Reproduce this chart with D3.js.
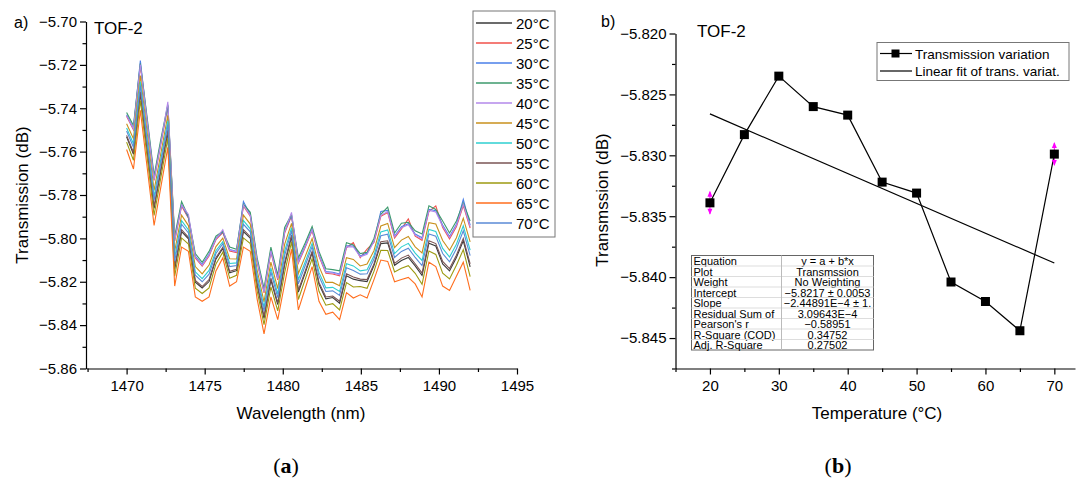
<!DOCTYPE html>
<html lang="en">
<head>
<meta charset="UTF-8">
<title>TOF-2 transmission vs wavelength and temperature</title>
<script src="https://d3js.org/d3.v7.min.js"></script>
<style>
    body { margin: 0; background: #fff; }
    svg text { font-family: "Liberation Sans", Arial, sans-serif; fill: #000; }
    .axis path, .axis line { stroke: #000; stroke-width: 1.2px; }
    .axis text { font-size: 15px; font-family: "Liberation Sans", Arial, sans-serif; fill: #000; }
    .axis-title { font-size: 17px; }
    .panel-tag { font-size: 16px; }
    .plot-title { font-size: 17px; }
    .legend-text { font-size: 15px; }
    .legend2-text { font-size: 13.5px; }
    .table-text { font-size: 11px; }
    .caption { font-family: "Liberation Serif", "DejaVu Serif", serif; font-size: 22px; }
</style>
</head>
<body>
<script>
// ---------- panel (a) data ----------
var wavelengths = [1470.00, 1470.44, 1470.88, 1471.32, 1471.76, 1472.20, 1472.64, 1473.08, 1473.52, 1473.96,
    1474.40, 1474.84, 1475.28, 1475.72, 1476.16, 1476.60, 1477.04, 1477.48, 1477.92, 1478.36,
    1478.80, 1479.24, 1479.68, 1480.12, 1480.56, 1481.00, 1481.44, 1481.88, 1482.32, 1482.76,
    1483.20, 1483.64, 1484.08, 1484.52, 1484.96, 1485.40, 1485.84, 1486.28, 1486.72, 1487.16,
    1487.60, 1488.04, 1488.48, 1488.92, 1489.36, 1489.80, 1490.24, 1490.68, 1491.12, 1491.56, 1492.00];

var tempLabels = ["20°C", "25°C", "30°C", "35°C", "40°C", "45°C", "50°C", "55°C", "60°C", "65°C", "70°C"];
var tempColors = ["#3a3a3a", "#f0504a", "#4a7fe8", "#3c9a6c", "#b388ea", "#c8901c", "#2ecfd0", "#7a5454", "#9c9a10", "#ff6e1e", "#5a8ad6"];

var t20 = [-5.7532, -5.7612, -5.7332, -5.7597, -5.7862, -5.7685, -5.7509, -5.8142, -5.7969, -5.8002, -5.8202, -5.8229, -5.8199, -5.8096, -5.8046, -5.8159, -5.8149, -5.7969, -5.7999, -5.8215, -5.8369, -5.8192, -5.8305, -5.8122, -5.7992, -5.8248, -5.8159, -5.8067, -5.8212, -5.8279, -5.8273, -5.8299, -5.8172, -5.8188, -5.8195, -5.8199, -5.8125, -5.8024, -5.8021, -5.8124, -5.8102, -5.8088, -5.8127, -5.8171, -5.8022, -5.8035, -5.8118, -5.8150, -5.8088, -5.8011, -5.8131];
var t25 = [-5.7437, -5.7500, -5.7203, -5.7468, -5.7733, -5.7562, -5.7391, -5.8013, -5.7851, -5.7907, -5.8090, -5.8128, -5.8081, -5.8006, -5.7973, -5.8058, -5.8065, -5.7851, -5.7898, -5.8109, -5.8251, -5.8063, -5.8191, -5.7976, -5.7897, -5.8114, -5.8041, -5.7964, -5.8083, -5.8161, -5.8164, -5.8173, -5.8043, -5.8020, -5.8089, -5.8050, -5.8019, -5.7898, -5.7881, -5.7998, -5.7956, -5.7910, -5.7990, -5.8009, -5.7876, -5.7850, -5.7950, -5.8002, -5.7946, -5.7849, -5.7952];
var t30 = [-5.7430, -5.7492, -5.7180, -5.7459, -5.7724, -5.7553, -5.7387, -5.8004, -5.7843, -5.7904, -5.8082, -5.8121, -5.8073, -5.8000, -5.7970, -5.8051, -5.8059, -5.7830, -5.7891, -5.8101, -5.8243, -5.8054, -5.8182, -5.7966, -5.7894, -5.8104, -5.8033, -5.7956, -5.8074, -5.8153, -5.8156, -5.8164, -5.8034, -5.8035, -5.8081, -5.8068, -5.8011, -5.7876, -5.7871, -5.7989, -5.7946, -5.7932, -5.7980, -5.7997, -5.7866, -5.7872, -5.7938, -5.7991, -5.7935, -5.7820, -5.7939];
var t35 = [-5.7420, -5.7480, -5.7194, -5.7445, -5.7710, -5.7540, -5.7383, -5.7990, -5.7830, -5.7900, -5.8070, -5.8110, -5.8060, -5.7990, -5.7968, -5.8040, -5.8050, -5.7843, -5.7880, -5.8090, -5.8230, -5.8040, -5.8170, -5.7950, -5.7890, -5.8090, -5.8020, -5.7945, -5.8060, -5.8140, -5.8144, -5.8150, -5.8020, -5.8030, -5.8070, -5.8064, -5.8000, -5.7889, -5.7856, -5.7975, -5.7930, -5.7926, -5.7965, -5.7980, -5.7850, -5.7867, -5.7920, -5.7975, -5.7920, -5.7837, -5.7920];
var t40 = [-5.7434, -5.7496, -5.7198, -5.7463, -5.7728, -5.7558, -5.7370, -5.8008, -5.7847, -5.7890, -5.8086, -5.8124, -5.8077, -5.8003, -5.7960, -5.8054, -5.8062, -5.7847, -5.7894, -5.8105, -5.8247, -5.8058, -5.8186, -5.7971, -5.7880, -5.8109, -5.8037, -5.7960, -5.8078, -5.8157, -5.8160, -5.8168, -5.8038, -5.8040, -5.8085, -5.8073, -5.8015, -5.7894, -5.7876, -5.7993, -5.7951, -5.7937, -5.7985, -5.8003, -5.7871, -5.7878, -5.7944, -5.7996, -5.7940, -5.7843, -5.7946];
var t45 = [-5.7471, -5.7540, -5.7249, -5.7514, -5.7779, -5.7606, -5.7433, -5.8059, -5.7893, -5.7941, -5.8130, -5.8164, -5.8123, -5.8038, -5.7999, -5.8094, -5.8095, -5.7893, -5.7934, -5.8147, -5.8293, -5.8109, -5.8232, -5.8028, -5.7931, -5.8162, -5.8083, -5.8001, -5.8129, -5.8203, -5.8203, -5.8218, -5.8089, -5.8097, -5.8127, -5.8118, -5.8057, -5.7943, -5.7931, -5.8043, -5.8008, -5.7991, -5.8039, -5.8067, -5.7928, -5.7934, -5.8010, -5.8055, -5.7997, -5.7907, -5.8016];
var t50 = [-5.7491, -5.7564, -5.7277, -5.7542, -5.7807, -5.7632, -5.7458, -5.8087, -5.7918, -5.7961, -5.8154, -5.8186, -5.8148, -5.8057, -5.8015, -5.8116, -5.8113, -5.7918, -5.7956, -5.8170, -5.8318, -5.8137, -5.8256, -5.8059, -5.7951, -5.8191, -5.8108, -5.8023, -5.8157, -5.8228, -5.8226, -5.8245, -5.8117, -5.8127, -5.8150, -5.8145, -5.8080, -5.7970, -5.7961, -5.8070, -5.8039, -5.8023, -5.8068, -5.8102, -5.7959, -5.7968, -5.8046, -5.8086, -5.8027, -5.7942, -5.8054];
var t55 = [-5.7525, -5.7604, -5.7323, -5.7588, -5.7853, -5.7676, -5.7500, -5.8133, -5.7960, -5.7995, -5.8194, -5.8222, -5.8190, -5.8089, -5.8041, -5.8152, -5.8143, -5.7960, -5.7992, -5.8208, -5.8360, -5.8183, -5.8297, -5.8111, -5.7985, -5.8239, -5.8150, -5.8060, -5.8203, -5.8270, -5.8266, -5.8290, -5.8163, -5.8178, -5.8188, -5.8190, -5.8118, -5.8015, -5.8011, -5.8115, -5.8091, -5.8077, -5.8117, -5.8160, -5.8011, -5.8024, -5.8106, -5.8139, -5.8078, -5.8000, -5.8118];
var t60 = [-5.7556, -5.7640, -5.7364, -5.7629, -5.7894, -5.7716, -5.7538, -5.8174, -5.7998, -5.8026, -5.8230, -5.8254, -5.8228, -5.8118, -5.8064, -5.8184, -5.8170, -5.7998, -5.8024, -5.8242, -5.8398, -5.8224, -5.8334, -5.8158, -5.8016, -5.8282, -5.8188, -5.8093, -5.8244, -5.8308, -5.8301, -5.8330, -5.8204, -5.8224, -5.8222, -5.8230, -5.8152, -5.8055, -5.8056, -5.8155, -5.8138, -5.8126, -5.8161, -5.8212, -5.8058, -5.8074, -5.8160, -5.8187, -5.8124, -5.8052, -5.8176];
var t65 = [-5.7590, -5.7680, -5.7410, -5.7675, -5.7940, -5.7760, -5.7580, -5.8220, -5.8040, -5.8060, -5.8270, -5.8290, -5.8270, -5.8150, -5.8090, -5.8220, -5.8200, -5.8040, -5.8060, -5.8280, -5.8440, -5.8270, -5.8375, -5.8210, -5.8050, -5.8330, -5.8230, -5.8130, -5.8290, -5.8350, -5.8340, -5.8375, -5.8250, -5.8275, -5.8260, -5.8275, -5.8190, -5.8100, -5.8106, -5.8200, -5.8190, -5.8180, -5.8210, -5.8270, -5.8110, -5.8130, -5.8220, -5.8240, -5.8175, -5.8110, -5.8240];
var t70 = [-5.7505, -5.7580, -5.7295, -5.7560, -5.7825, -5.7650, -5.7475, -5.8105, -5.7935, -5.7975, -5.8170, -5.8200, -5.8165, -5.8070, -5.8025, -5.8130, -5.8125, -5.7935, -5.7970, -5.8185, -5.8335, -5.8155, -5.8273, -5.8080, -5.7965, -5.8210, -5.8125, -5.8038, -5.8175, -5.8245, -5.8242, -5.8263, -5.8135, -5.8148, -5.8165, -5.8163, -5.8095, -5.7988, -5.7981, -5.8088, -5.8060, -5.8045, -5.8088, -5.8125, -5.7980, -5.7990, -5.8070, -5.8108, -5.8048, -5.7965, -5.8080];
var seriesA = [t20, t25, t30, t35, t40, t45, t50, t55, t60, t65, t70];

var xTicksA = [1470, 1475, 1480, 1485, 1490, 1495];
var xMinorA = [1467.5, 1472.5, 1477.5, 1482.5, 1487.5, 1492.5];
var yTicksA = [-5.86, -5.84, -5.82, -5.80, -5.78, -5.76, -5.74, -5.72, -5.70];
var yMinorA = [-5.85, -5.83, -5.81, -5.79, -5.77, -5.75, -5.73, -5.71];

// ---------- panel (b) data ----------
var temperatures = [20, 25, 30, 35, 40, 45, 50, 55, 60, 65, 70];
var transmission = [-5.8339, -5.8283, -5.8235, -5.8260, -5.8267, -5.8322, -5.8331, -5.8404, -5.8420, -5.8444, -5.8299];
var fitA = -5.8217, fitB = -2.44891e-4;
var xTicksB = [20, 30, 40, 50, 60, 70];
var xMinorB = [15, 25, 35, 45, 55, 65];
var yTicksB = [-5.845, -5.840, -5.835, -5.830, -5.825, -5.820];
var yMinorB = [-5.8475, -5.8425, -5.8375, -5.8325, -5.8275, -5.8225];
var fitNames = ["Equation", "Plot", "Weight", "Intercept", "Slope", "Residual Sum of", "Pearson's r", "R-Square (COD)", "Adj. R-Square"];
var fitValues = ["y = a + b*x", "Transmssion", "No Weighting", "\u22125.8217 \u00b1 0.0053", "\u22122.44891E\u22124 \u00b1 1.", "3.09643E\u22124", "\u22120.58951", "0.34752", "0.27502"];

var svg = d3.select("body").append("svg")
    .attr("width", 1082)
    .attr("height", 479);

function drawAxes(g, x, y, xt, xm, yt, ym, xfmt, yfmt) {
    var x0 = y.range()[0];
    var y0 = x.range()[0];
    g.append("g").attr("class", "axis")
        .attr("transform", "translate(0," + x0 + ")")
        .call(d3.axisBottom(x).tickValues(xm).tickSize(3.5).tickFormat(""))
        .select(".domain").remove();
    g.append("g").attr("class", "axis")
        .attr("transform", "translate(0," + x0 + ")")
        .call(d3.axisBottom(x).tickValues(xt).tickSize(6).tickPadding(6).tickSizeOuter(0).tickFormat(xfmt));
    g.append("g").attr("class", "axis")
        .attr("transform", "translate(" + y0 + ",0)")
        .call(d3.axisLeft(y).tickValues(ym).tickSize(3.5).tickFormat(""))
        .select(".domain").remove();
    g.append("g").attr("class", "axis")
        .attr("transform", "translate(" + y0 + ",0)")
        .call(d3.axisLeft(y).tickValues(yt).tickSize(6).tickPadding(3).tickSizeOuter(0).tickFormat(yfmt));
}

// ================= panel (a) =================
var gA = svg.append("g");
var xA = d3.scaleLinear().domain([1467.4, 1495]).range([86, 517]);
var yA = d3.scaleLinear().domain([-5.86, -5.70]).range([368.5, 21.5]);

drawAxes(gA, xA, yA, xTicksA, xMinorA, yTicksA, yMinorA, d3.format("d"), d3.format(".2f"));

var lineA = d3.line()
    .x(function (d, i) { return xA(wavelengths[i]); })
    .y(function (d) { return yA(d); });

gA.selectAll(".spec")
    .data(seriesA)
    .enter()
    .append("path")
    .attr("class", "spec")
    .attr("d", lineA)
    .attr("fill", "none")
    .attr("stroke", function (d, i) { return tempColors[i]; })
    .attr("stroke-width", 1.1);

gA.append("text").attr("class", "panel-tag").attr("x", 14).attr("y", 28).text("a)");
gA.append("text").attr("class", "plot-title").attr("x", 94).attr("y", 34).text("TOF-2");
gA.append("text").attr("class", "axis-title")
    .attr("transform", "translate(28,195) rotate(-90)")
    .attr("text-anchor", "middle")
    .text("Transmission (dB)");
gA.append("text").attr("class", "axis-title")
    .attr("x", 301).attr("y", 419)
    .attr("text-anchor", "middle")
    .text("Wavelength (nm)");

// legend (a)
var legA = gA.append("g").attr("transform", "translate(473,11)");
legA.append("rect").attr("width", 82).attr("height", 226)
    .attr("fill", "#fff").attr("stroke", "#777").attr("stroke-width", 1);
tempLabels.forEach(function (t, i) {
    var yy = 12 + i * 20;
    legA.append("line").attr("x1", 3).attr("x2", 39).attr("y1", yy).attr("y2", yy)
        .attr("stroke", tempColors[i]).attr("stroke-width", 1.3);
    legA.append("text").attr("class", "legend-text").attr("x", 43).attr("y", yy + 5.5).text(t);
});

gA.append("text").attr("class", "caption").attr("x", 286).attr("y", 473)
    .attr("text-anchor", "middle")
    .html('(<tspan font-weight="bold">a</tspan>)');

// ================= panel (b) =================
var gB = svg.append("g");
var xB = d3.scaleLinear().domain([15, 73]).range([675.5, 1075]);
var yB = d3.scaleLinear().domain([-5.8475, -5.820]).range([368.5, 33.5]);

drawAxes(gB, xB, yB, xTicksB, xMinorB, yTicksB, yMinorB, d3.format("d"), d3.format(".3f"));

// linear fit
gB.append("line")
    .attr("x1", xB(temperatures[0])).attr("y1", yB(fitA + fitB * temperatures[0]))
    .attr("x2", xB(temperatures[temperatures.length - 1]))
    .attr("y2", yB(fitA + fitB * temperatures[temperatures.length - 1]))
    .attr("stroke", "#000").attr("stroke-width", 1.2);

var lineB = d3.line()
    .x(function (d, i) { return xB(temperatures[i]); })
    .y(function (d) { return yB(d); });

gB.append("path").datum(transmission)
    .attr("d", lineB).attr("fill", "none")
    .attr("stroke", "#000").attr("stroke-width", 1.2);

// magenta error arrows on the end points
[0, temperatures.length - 1].forEach(function (k) {
    var px = xB(temperatures[k]), py = yB(transmission[k]);
    [-1, 1].forEach(function (s) {
        gB.append("line").attr("x1", px).attr("x2", px)
            .attr("y1", py).attr("y2", py + s * 11)
            .attr("stroke", "#ff00ff").attr("stroke-width", 1);
        gB.append("path")
            .attr("d", "M" + (px - 2.5) + "," + (py + s * 6) + "L" + (px + 2.5) + "," + (py + s * 6) + "L" + px + "," + (py + s * 12) + "Z")
            .attr("fill", "#ff00ff");
    });
});

gB.selectAll(".mk")
    .data(transmission)
    .enter()
    .append("rect")
    .attr("class", "mk")
    .attr("x", function (d, i) { return xB(temperatures[i]) - 4.5; })
    .attr("y", function (d) { return yB(d) - 4.5; })
    .attr("width", 9).attr("height", 9)
    .attr("fill", "#000");

gB.append("text").attr("class", "panel-tag").attr("x", 601).attr("y", 27).text("b)");
gB.append("text").attr("class", "plot-title").attr("x", 697).attr("y", 37).text("TOF-2");
gB.append("text").attr("class", "axis-title")
    .attr("transform", "translate(608,200) rotate(-90)")
    .attr("text-anchor", "middle")
    .text("Transmssion (dB)");
gB.append("text").attr("class", "axis-title")
    .attr("x", 877).attr("y", 419)
    .attr("text-anchor", "middle")
    .text("Temperature (°C)");

// legend (b)
var legB = gB.append("g").attr("transform", "translate(877,42.5)");
legB.append("rect").attr("width", 192).attr("height", 38)
    .attr("fill", "#fff").attr("stroke", "#777").attr("stroke-width", 1);
legB.append("line").attr("x1", 3).attr("x2", 35).attr("y1", 11).attr("y2", 11)
    .attr("stroke", "#000").attr("stroke-width", 1.2);
legB.append("rect").attr("x", 14.5).attr("y", 7).attr("width", 8).attr("height", 8).attr("fill", "#000");
legB.append("text").attr("class", "legend2-text").attr("x", 38).attr("y", 16).text("Transmission variation");
legB.append("line").attr("x1", 3).attr("x2", 35).attr("y1", 28.5).attr("y2", 28.5)
    .attr("stroke", "#000").attr("stroke-width", 1.2);
legB.append("text").attr("class", "legend2-text").attr("x", 38).attr("y", 33).text("Linear fit of trans. variat.");

// fit table
var tab = gB.append("g").attr("transform", "translate(691.5,255.5)");
var rowH = 10.5;
tab.append("rect").attr("width", 182).attr("height", rowH * fitNames.length)
    .attr("fill", "#fff").attr("stroke", "#666").attr("stroke-width", 1);
fitNames.forEach(function (n, i) {
    if (i > 0) {
        tab.append("line").attr("x1", 0).attr("x2", 182).attr("y1", i * rowH).attr("y2", i * rowH)
            .attr("stroke", "#ddd").attr("stroke-width", 1);
    }
    tab.append("text").attr("class", "table-text").attr("x", 2).attr("y", i * rowH + 9.5).text(n);
    tab.append("text").attr("class", "table-text").attr("x", 136).attr("y", i * rowH + 9.5)
        .attr("text-anchor", "middle").text(fitValues[i]);
});
tab.append("line").attr("x1", 90).attr("x2", 90).attr("y1", 0).attr("y2", rowH * fitNames.length)
    .attr("stroke", "#bbb").attr("stroke-width", 1);

gB.append("text").attr("class", "caption").attr("x", 838).attr("y", 473)
    .attr("text-anchor", "middle")
    .html('(<tspan font-weight="bold">b</tspan>)');
</script>
</body>
</html>
